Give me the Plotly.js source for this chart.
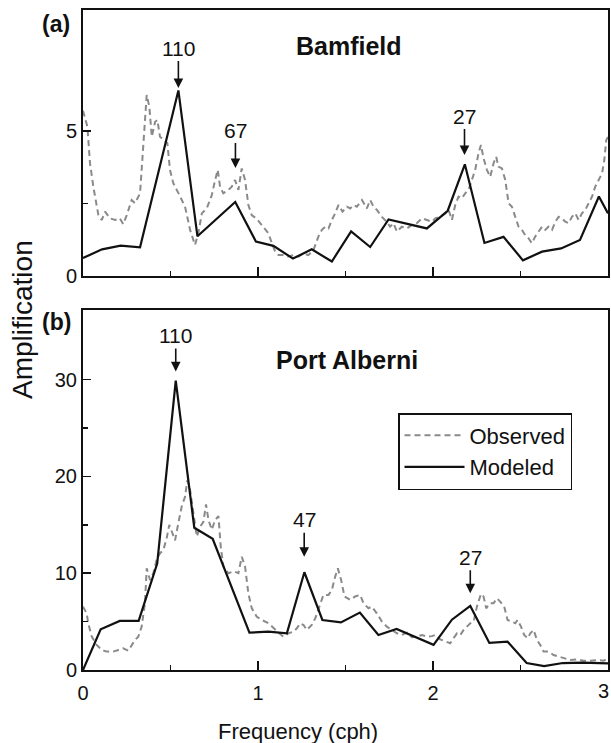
<!DOCTYPE html>
<html>
<head>
<meta charset="utf-8">
<script src="https://cdn.plot.ly/plotly-3.0.1.min.js"></script>
<style>
  html, body { margin: 0; padding: 0; background: #ffffff; }
  #chart { width: 611px; height: 743px; }
</style>
</head>
<body>
<div id="chart"></div>
<script>
// ---------- Data ----------
// Panel (a) Bamfield
const bamObsX = [0, 0.025, 0.04, 0.059, 0.088, 0.107, 0.126, 0.154, 0.183, 0.21,
  0.23, 0.25, 0.278, 0.297, 0.326, 0.345, 0.364, 0.379, 0.393, 0.412,
  0.425, 0.44, 0.459, 0.482, 0.497, 0.516, 0.555, 0.583, 0.612, 0.64,
  0.659, 0.679, 0.707, 0.736, 0.755, 0.77, 0.783, 0.802, 0.831, 0.85,
  0.869, 0.888, 0.907, 0.926, 0.945, 0.964, 0.993, 1.031, 1.06, 1.079,
  1.098, 1.117, 1.145, 1.174, 1.202, 1.231, 1.26, 1.288, 1.317, 1.345,
  1.365, 1.384, 1.403, 1.422, 1.441, 1.46, 1.483, 1.508, 1.527, 1.545,
  1.565, 1.594, 1.622, 1.641, 1.66, 1.679, 1.708, 1.736, 1.755, 1.774,
  1.794, 1.822, 1.851, 1.879, 1.908, 1.937, 1.965, 1.994, 2.013, 2.041,
  2.07, 2.089, 2.108, 2.127, 2.146, 2.165, 2.184, 2.203, 2.222, 2.241,
  2.26, 2.274, 2.289, 2.308, 2.327, 2.346, 2.361, 2.374, 2.394, 2.413,
  2.432, 2.451, 2.47, 2.489, 2.508, 2.527, 2.546, 2.565, 2.584, 2.603,
  2.623, 2.641, 2.66, 2.68, 2.699, 2.718, 2.737, 2.756, 2.775, 2.794,
  2.813, 2.832, 2.851, 2.87, 2.889, 2.909, 2.927, 2.946, 2.966, 2.979,
  2.99, 3.0];
const bamObsY = [5.7, 5.15, 3.89, 3.08, 2.10, 1.93, 2.22, 1.99, 1.93, 1.99,
  1.79, 2.10, 2.62, 2.51, 2.85, 4.46, 6.24, 5.84, 4.80, 5.32,
  5.38, 4.80, 4.69, 4.58, 3.66, 3.20, 2.74, 2.39, 1.59, 1.07,
  1.47, 2.16, 2.33, 2.79, 3.31, 3.66, 3.08, 2.85, 2.97, 3.08,
  3.31, 2.97, 3.71, 3.31, 2.45, 2.10, 1.97, 1.70, 1.47, 1.13,
  0.84, 0.72, 0.72, 0.67, 0.72, 0.67, 0.78, 0.72, 0.90, 1.36,
  1.59, 1.70, 1.64, 1.93, 2.16, 2.45, 2.22, 2.39, 2.33, 2.45,
  2.39, 2.62, 2.33, 2.62, 2.39, 2.28, 2.04, 1.87, 1.70, 1.82,
  1.53, 1.70, 1.64, 1.76, 1.82, 1.99, 1.93, 1.87, 1.99, 2.04,
  2.16, 2.28, 1.93, 2.45, 2.74, 2.68, 2.85, 2.97, 3.31, 3.66,
  4.23, 4.52, 4.06, 3.66, 3.42, 3.89, 4.11, 3.77, 3.71, 3.31,
  2.51, 2.39, 2.04, 1.70, 1.59, 1.41, 1.30, 1.13, 1.36, 1.53,
  1.70, 1.59, 1.70, 1.59, 1.87, 2.04, 1.99, 1.87, 1.82, 2.04,
  2.16, 1.93, 2.16, 2.28, 2.51, 2.74, 3.08, 3.31, 3.54, 4.00,
  4.69, 4.80];
const bamModX = [0, 0.109, 0.215, 0.326, 0.545, 0.654, 0.87, 0.988, 1.088, 1.2,
  1.307, 1.422, 1.532, 1.641, 1.746, 1.965, 2.084, 2.182, 2.294, 2.403,
  2.514, 2.623, 2.732, 2.84, 2.948, 3.0];
const bamModY = [0.62, 0.92, 1.05, 0.99, 6.4, 1.37, 2.55, 1.19, 1.04, 0.6,
  0.92, 0.5, 1.54, 1.0, 1.95, 1.64, 2.25, 3.85, 1.14, 1.35,
  0.54, 0.84, 0.95, 1.24, 2.74, 2.16];

// Panel (b) Port Alberni
const paObsX = [0, 0.021, 0.03, 0.05, 0.078, 0.107, 0.135, 0.173, 0.202, 0.23,
  0.259, 0.278, 0.297, 0.316, 0.335, 0.354, 0.364, 0.383, 0.402, 0.421,
  0.44, 0.459, 0.478, 0.493, 0.513, 0.526, 0.545, 0.564, 0.583, 0.596,
  0.612, 0.627, 0.65, 0.669, 0.688, 0.703, 0.717, 0.736, 0.755, 0.774,
  0.787, 0.802, 0.831, 0.86, 0.888, 0.907, 0.926, 0.945, 0.964, 0.993,
  1.022, 1.06, 1.088, 1.117, 1.145, 1.174, 1.202, 1.222, 1.241, 1.26,
  1.279, 1.307, 1.327, 1.355, 1.374, 1.403, 1.422, 1.441, 1.456, 1.475,
  1.494, 1.527, 1.555, 1.584, 1.603, 1.631, 1.65, 1.679, 1.708, 1.736,
  1.765, 1.794, 1.822, 1.851, 1.879, 1.908, 1.937, 1.965, 1.994, 2.013,
  2.041, 2.07, 2.098, 2.117, 2.137, 2.156, 2.175, 2.194, 2.213, 2.232,
  2.251, 2.274, 2.289, 2.304, 2.327, 2.346, 2.365, 2.384, 2.407, 2.426,
  2.451, 2.47, 2.483, 2.503, 2.521, 2.541, 2.556, 2.575, 2.594, 2.613,
  2.632, 2.66, 2.689, 2.718, 2.746, 2.784, 2.823, 2.861, 2.899, 2.937,
  2.975, 3.0];
const paObsY = [6.55, 5.86, 4.83, 3.45, 2.59, 2.07, 1.9, 1.9, 2.07, 2.24,
  2.0, 2.59, 3.1, 3.45, 4.48, 6.9, 10.5, 9.3, 10.0, 11.4,
  12.07, 12.4, 13.6, 15.0, 14.1, 13.4, 15.2, 16.9, 17.9, 19.6,
  18.6, 16.5, 13.8, 14.8, 15.3, 17.1, 15.5, 14.5, 15.5, 15.9,
  12.75, 10.7, 10.0, 10.2, 10.0, 11.7, 10.7, 7.9, 6.4, 5.5,
  5.17, 4.83, 4.31, 3.86, 3.45, 3.79, 3.96, 4.31, 4.83, 4.65,
  4.14, 4.65, 5.34, 6.9, 7.76, 7.76, 8.27, 9.65, 10.5, 9.3,
  7.6, 7.24, 7.6, 7.76, 6.9, 6.38, 6.55, 5.86, 5.0, 4.48,
  4.14, 3.79, 3.62, 3.86, 3.38, 3.45, 3.62, 3.45, 3.5, 3.62,
  3.17, 2.93, 2.76, 3.28, 3.79, 3.62, 4.14, 4.48, 4.83, 5.0,
  6.55, 7.86, 7.58, 6.38, 6.9, 6.9, 7.41, 7.07, 6.55, 5.17,
  5.0, 4.83, 5.17, 4.48, 3.62, 3.28, 3.79, 4.14, 3.1, 2.59,
  1.9, 1.9, 1.55, 1.38, 1.21, 1.03, 1.1, 0.96, 0.96, 1.03,
  0.96, 1.21];
const paModX = [0, 0.101, 0.21, 0.318, 0.424, 0.53, 0.636, 0.741, 0.951, 1.06,
  1.165, 1.265, 1.368, 1.474, 1.582, 1.688, 1.792, 2.003, 2.108, 2.213,
  2.322, 2.426, 2.535, 2.635, 2.742, 2.85, 3.0];
const paModY = [0, 4.2, 5.07, 5.07, 11.0, 29.9, 14.7, 13.55, 3.86, 3.96,
  3.79, 10.1, 5.17, 4.92, 5.93, 3.62, 4.24, 2.6, 5.2, 6.62,
  2.8, 2.93, 0.72, 0.41, 0.72, 0.76, 0.69];

// Peak labels (period in minutes) and the frequency they point at
const bamPeakLabels = ['110', '67', '27'];
const bamPeakX = [0.545, 0.871, 2.18];
const bamPeakTipY = [6.48, 3.72, 4.17];
const paPeakLabels = ['110', '47', '27'];
const paPeakX = [0.53, 1.264, 2.213];
const paPeakTipY = [30.85, 11.7, 7.93];

const seriesNames = ['Observed', 'Modeled'];
const panelNames = ['Bamfield', 'Port Alberni'];
const panelTags = ['(a)', '(b)'];
const xTickVals = [0, 1, 2, 3];
const xTickText = ['0', '1', '2', '3'];
const bamYTicks = [0, 5];
const paYTicks = [0, 10, 20, 30];

// ---------- Styling ----------
const FONT = 'Liberation Sans, Arial, Helvetica, sans-serif';
const INK = '#111111';
const GREY = '#8a8a8a';
const obsLine = { color: GREY, width: 2, dash: '6px,4px' };
const modLine = { color: INK, width: 2.2 };

const traces = [
  { x: bamObsX, y: bamObsY, xaxis: 'x', yaxis: 'y', mode: 'lines', line: obsLine,
    name: seriesNames[0], showlegend: false, hoverinfo: 'skip' },
  { x: bamModX, y: bamModY, xaxis: 'x', yaxis: 'y', mode: 'lines', line: modLine,
    name: seriesNames[1], showlegend: false, hoverinfo: 'skip' },
  { x: paObsX, y: paObsY, xaxis: 'x2', yaxis: 'y2', mode: 'lines', line: obsLine,
    name: seriesNames[0], showlegend: true, hoverinfo: 'skip' },
  { x: paModX, y: paModY, xaxis: 'x2', yaxis: 'y2', mode: 'lines', line: modLine,
    name: seriesNames[1], showlegend: true, hoverinfo: 'skip' }
];

const W = 611, H = 743;
const px = v => v / W;
const py = v => 1 - v / H;
const xDomain = [px(83), px(608)];

function frameAxis(extra) {
  return Object.assign({
    showline: true, linecolor: INK, linewidth: 2, mirror: true,
    showgrid: false, zeroline: false, ticks: 'inside', tickcolor: INK,
    tickwidth: 1.5, tickfont: { family: FONT, size: 20, color: INK }
  }, extra);
}

const annotations = [];
function peakArrows(labels, xs, ys, xref, yref, ays) {
  for (let i = 0; i < labels.length; i++) {
    annotations.push({
      x: xs[i], y: ys[i], xref: xref, yref: yref, text: labels[i],
      showarrow: true, ax: 0, ay: ays[i], arrowhead: 2, arrowsize: 1.2,
      arrowwidth: 1.6, arrowcolor: INK, standoff: 0, startstandoff: 0,
      font: { family: FONT, size: 21, color: INK }
    });
  }
}
peakArrows(bamPeakLabels, bamPeakX, bamPeakTipY, 'x', 'y', [-40, -38, -39]);
peakArrows(paPeakLabels, paPeakX, paPeakTipY, 'x2', 'y2', [-36, -37, -36]);

function paperText(x, y, text, size, extra) {
  return Object.assign({
    xref: 'paper', yref: 'paper', x: px(x), y: py(y), text: text,
    xanchor: 'center', yanchor: 'middle', showarrow: false,
    font: { family: FONT, size: size, color: INK }
  }, extra || {});
}

annotations.push(
  paperText(56, 24, '<b>' + panelTags[0] + '</b>', 23),
  paperText(56, 322, '<b>' + panelTags[1] + '</b>', 23),
  paperText(349, 46, '<b>' + panelNames[0] + '</b>', 25),
  paperText(347, 360, '<b>' + panelNames[1] + '</b>', 25),
  paperText(22, 320, 'Amplification', 28, { textangle: -90 }),
  paperText(298, 731, 'Frequency (cph)', 22),
  // last x tick label sits at the right edge of the figure: kept fully inside
  paperText(611, 691, xTickText[3], 20, { xanchor: 'right', x: 1 })
);

// the axis draws the first three x labels; the last one is the annotation above
const xTickTextAxis = xTickText.map((t, i) => (i === xTickText.length - 1 ? '' : t));

const layout = {
  width: W, height: H,
  margin: { l: 0, r: 0, t: 0, b: 0 },
  paper_bgcolor: '#ffffff', plot_bgcolor: '#ffffff',
  font: { family: FONT, color: INK },
  showlegend: true,
  xaxis: frameAxis({ domain: xDomain, anchor: 'y', range: [0, 3], tickmode: 'array',
    tickvals: [1, 2], showticklabels: false, ticklen: 9,
    minor: { tickmode: 'array', tickvals: [0.5, 1.5, 2.5], ticks: 'inside', ticklen: 5, tickwidth: 1.5, tickcolor: INK } }),
  yaxis: frameAxis({ domain: [py(276), py(9.5)], anchor: 'x', range: [0, 9.19], tickmode: 'array',
    tickvals: bamYTicks, ticklen: 8,
    minor: { tickmode: 'array', tickvals: [2.5], ticks: 'inside', ticklen: 5, tickwidth: 1.5, tickcolor: INK } }),
  xaxis2: frameAxis({ domain: xDomain, anchor: 'y2', range: [0, 3], tickmode: 'array',
    tickvals: xTickVals, ticktext: xTickTextAxis, ticklen: 9, ticklabelstandoff: 4,
    minor: { tickmode: 'array', tickvals: [0.5, 1.5, 2.5], ticks: 'inside', ticklen: 5, tickwidth: 1.5, tickcolor: INK } }),
  yaxis2: frameAxis({ domain: [py(670), py(310)], anchor: 'x2', range: [0, 37.2], tickmode: 'array',
    tickvals: paYTicks, ticklen: 8,
    minor: { tickmode: 'array', tickvals: [5, 15, 25], ticks: 'inside', ticklen: 5, tickwidth: 1.5, tickcolor: INK } }),
  legend: {
    x: px(398), y: py(413), xanchor: 'left', yanchor: 'top',
    bgcolor: '#ffffff', bordercolor: INK, borderwidth: 1.5,
    font: { family: FONT, size: 22, color: INK }, tracegroupgap: 0,
    itemwidth: 60
  },
  annotations: annotations
};

Plotly.newPlot('chart', traces, layout, { staticPlot: true, displayModeBar: false });
</script>
</body>
</html>
